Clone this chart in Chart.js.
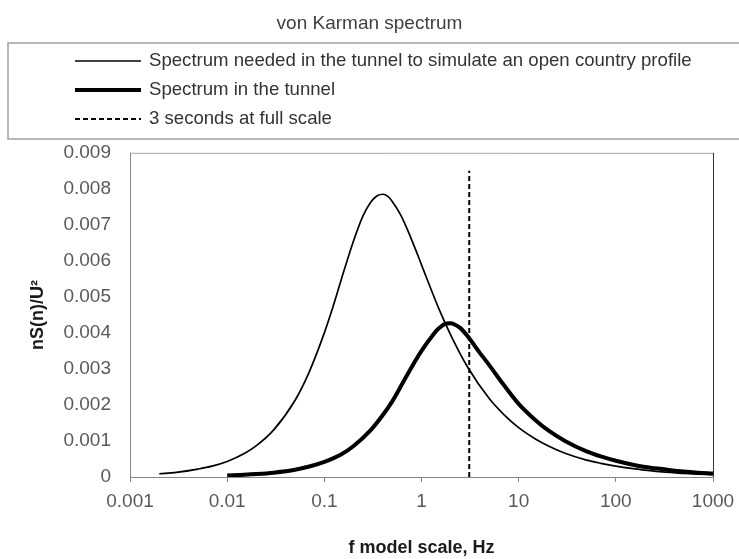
<!DOCTYPE html>
<html>
<head>
<meta charset="utf-8">
<title>von Karman spectrum</title>
<script src="https://cdn.jsdelivr.net/npm/chart.js@4.4.1/dist/chart.umd.min.js"></script>
<style>
  html, body { margin: 0; padding: 0; background: #fff; }
  #wrap { width: 739px; height: 559px; position: relative; }
</style>
</head>
<body>
<div id="wrap"><canvas id="spectrumChart"></canvas></div>
<script>
// Spectrum needed in the tunnel (open country profile)
var targetFreq = [0.002, 0.003, 0.005, 0.007, 0.01, 0.015, 0.02, 0.03, 0.05, 0.07,
    0.1, 0.12, 0.15, 0.2, 0.25, 0.3, 0.35, 0.4, 0.45, 0.5, 0.6, 0.7, 0.85, 1, 1.5, 2, 3, 5, 7, 10, 15, 20, 30, 50, 70,
    100, 150, 200, 300, 500, 700, 1000];
var targetValues = [0.00009, 0.00013, 0.00022, 0.0003, 0.00043, 0.00065, 0.00087, 0.0013, 0.00213, 0.00292,
    0.004, 0.00464, 0.0055, 0.00656, 0.00725, 0.00763, 0.00781, 0.00785, 0.00779, 0.00765, 0.00731, 0.00693, 0.00638, 0.00589, 0.00469, 0.00394, 0.00304, 0.00217, 0.00174, 0.00137, 0.00105, 0.00087, 0.00066, 0.00047, 0.00038,
    0.0003, 0.00023, 0.00019, 0.00014, 0.0001, 0.00008, 0.000065];

// Spectrum measured in the tunnel
var tunnelFreq = [0.01, 0.015, 0.02, 0.03, 0.05, 0.07, 0.1, 0.15, 0.2, 0.3, 0.4, 0.5,
    0.7, 1, 1.3, 1.5, 1.8, 2, 2.2, 2.5, 3, 4, 5, 7, 10, 15, 20, 30, 50, 70, 100, 150, 200, 300, 500, 700, 1000];
var tunnelValues = [0.00004, 0.00006, 0.00008, 0.00012, 0.0002, 0.00029, 0.00042, 0.00063, 0.00086, 0.0013, 0.00172, 0.0021,
    0.0028, 0.0035, 0.00393, 0.00412, 0.00426, 0.00427, 0.00423, 0.00414, 0.0039, 0.00344, 0.0031, 0.00256, 0.00203, 0.00157, 0.0013, 0.001, 0.00071, 0.00057, 0.00045, 0.00034, 0.00028, 0.00022, 0.00015, 0.00012, 0.0001];

// 3 s at full scale, in model frequency
var markerFreq = 3.1;
var markerTop = 0.0085;

var xTicks = [0.001, 0.01, 0.1, 1, 10, 100, 1000];
var xTickLabels = ['0.001', '0.01', '0.1', '1', '10', '100', '1000'];
var yTickLabels = ['0', '0.001', '0.002', '0.003', '0.004', '0.005', '0.006', '0.007', '0.008', '0.009'];

var seriesLabels = [
    'Spectrum needed in the tunnel to simulate an open country profile',
    'Spectrum in the tunnel',
    '3 seconds at full scale'
];

function toPoints(xs, ys) {
    return xs.map(function (x, i) { return { x: x, y: ys[i] }; });
}

var FONT = '"Liberation Sans", Arial, sans-serif';
var SIZE = 19;

// frame round the plot area
var plotFrame = {
    id: 'plotFrame',
    beforeDatasetsDraw: function (chart) {
        var a = chart.chartArea, ctx = chart.ctx;
        ctx.save();
        ctx.lineWidth = 1;
        ctx.strokeStyle = '#a6a6a6';
        ctx.beginPath();
        ctx.moveTo(a.left, a.top + 0.5);
        ctx.lineTo(a.right, a.top + 0.5);
        ctx.stroke();
        ctx.strokeStyle = '#333';
        ctx.beginPath();
        ctx.moveTo(a.right + 0.5, a.top);
        ctx.lineTo(a.right + 0.5, a.bottom);
        ctx.stroke();
        ctx.strokeStyle = '#868686';
        ctx.beginPath();
        ctx.moveTo(a.left + 0.5, a.top);
        ctx.lineTo(a.left + 0.5, a.bottom + 0.5);
        ctx.lineTo(a.right, a.bottom + 0.5);
        ctx.stroke();
        ctx.restore();
    }
};

// boxed legend under the title
var boxLegend = {
    id: 'boxLegend',
    afterDraw: function (chart) {
        var ctx = chart.ctx;
        ctx.save();
        ctx.strokeStyle = '#a0a0a0';
        ctx.lineWidth = 1.5;
        ctx.strokeRect(8, 43, 745, 96);
        var rows = [61, 90, 119];
        chart.data.datasets.forEach(function (ds, i) {
            var y = rows[i];
            ctx.strokeStyle = ds.borderColor;
            ctx.lineWidth = ds.borderWidth;
            ctx.setLineDash(ds.borderDash || []);
            ctx.beginPath();
            ctx.moveTo(75, y);
            ctx.lineTo(141, y);
            ctx.stroke();
            ctx.setLineDash([]);
            ctx.fillStyle = '#333';
            ctx.font = '18.6px ' + FONT;
            ctx.textAlign = 'left';
            ctx.textBaseline = 'middle';
            ctx.fillText(ds.label, 149, y);
        });
        ctx.restore();
    }
};

var ctx = document.getElementById('spectrumChart').getContext('2d');
var chart = new Chart(ctx, {
    type: 'scatter',
    data: {
        datasets: [{
            label: seriesLabels[0],
            data: toPoints(targetFreq, targetValues),
            showLine: true,
            borderColor: '#000',
            borderWidth: 1.7,
            pointRadius: 0,
            cubicInterpolationMode: 'monotone'
        }, {
            label: seriesLabels[1],
            data: toPoints(tunnelFreq, tunnelValues),
            showLine: true,
            borderColor: '#000',
            borderWidth: 4,
            pointRadius: 0,
            cubicInterpolationMode: 'monotone'
        }, {
            label: seriesLabels[2],
            data: [{ x: markerFreq, y: 0 }, { x: markerFreq, y: markerTop }],
            showLine: true,
            borderColor: '#000',
            borderWidth: 2,
            borderDash: [5, 3],
            pointRadius: 0
        }]
    },
    options: {
        responsive: true,
        maintainAspectRatio: false,
        animation: false,
        layout: { padding: 0 },
        plugins: {
            legend: { display: false },
            tooltip: { enabled: false },
            title: {
                display: true,
                text: 'von Karman spectrum',
                color: '#404040',
                font: { family: FONT, size: SIZE, weight: 'normal' },
                padding: { top: 12, bottom: 118 }
            }
        },
        scales: {
            x: {
                type: 'logarithmic',
                min: 0.001,
                max: 1000,
                afterBuildTicks: function (scale) {
                    scale.ticks = xTicks.map(function (v) { return { value: v }; });
                },
                afterFit: function (scale) {
                    scale.height = 82;
                    scale.paddingRight = 26;
                },
                grid: {
                    drawOnChartArea: false,
                    drawTicks: true,
                    tickLength: 5,
                    color: '#868686'
                },
                border: { display: false },
                ticks: {
                    color: '#595959',
                    padding: 8,
                    maxRotation: 0,
                    autoSkip: false,
                    font: { family: FONT, size: SIZE },
                    callback: function (value, index) { return xTickLabels[index]; }
                },
                title: {
                    display: true,
                    text: 'f model scale, Hz',
                    color: '#1a1a1a',
                    font: { family: FONT, size: 18, weight: 'bold' },
                    padding: { top: 0, bottom: 0 }
                }
            },
            y: {
                min: 0,
                max: 0.009,
                afterBuildTicks: function (scale) {
                    scale.ticks = yTickLabels.map(function (t, i) { return { value: i * 0.001 }; });
                },
                afterFit: function (scale) { scale.width = 130; },
                grid: { display: false, drawTicks: false },
                border: { display: false },
                ticks: {
                    color: '#595959',
                    padding: 19,
                    font: { family: FONT, size: SIZE },
                    callback: function (value, index) { return yTickLabels[index]; }
                },
                title: {
                    display: true,
                    text: 'nS(n)/U²',
                    color: '#1a1a1a',
                    font: { family: FONT, size: 18, weight: 'bold' },
                    padding: { top: 27, bottom: 0 }
                }
            }
        }
    },
    plugins: [plotFrame, boxLegend]
});
</script>
</body>
</html>
